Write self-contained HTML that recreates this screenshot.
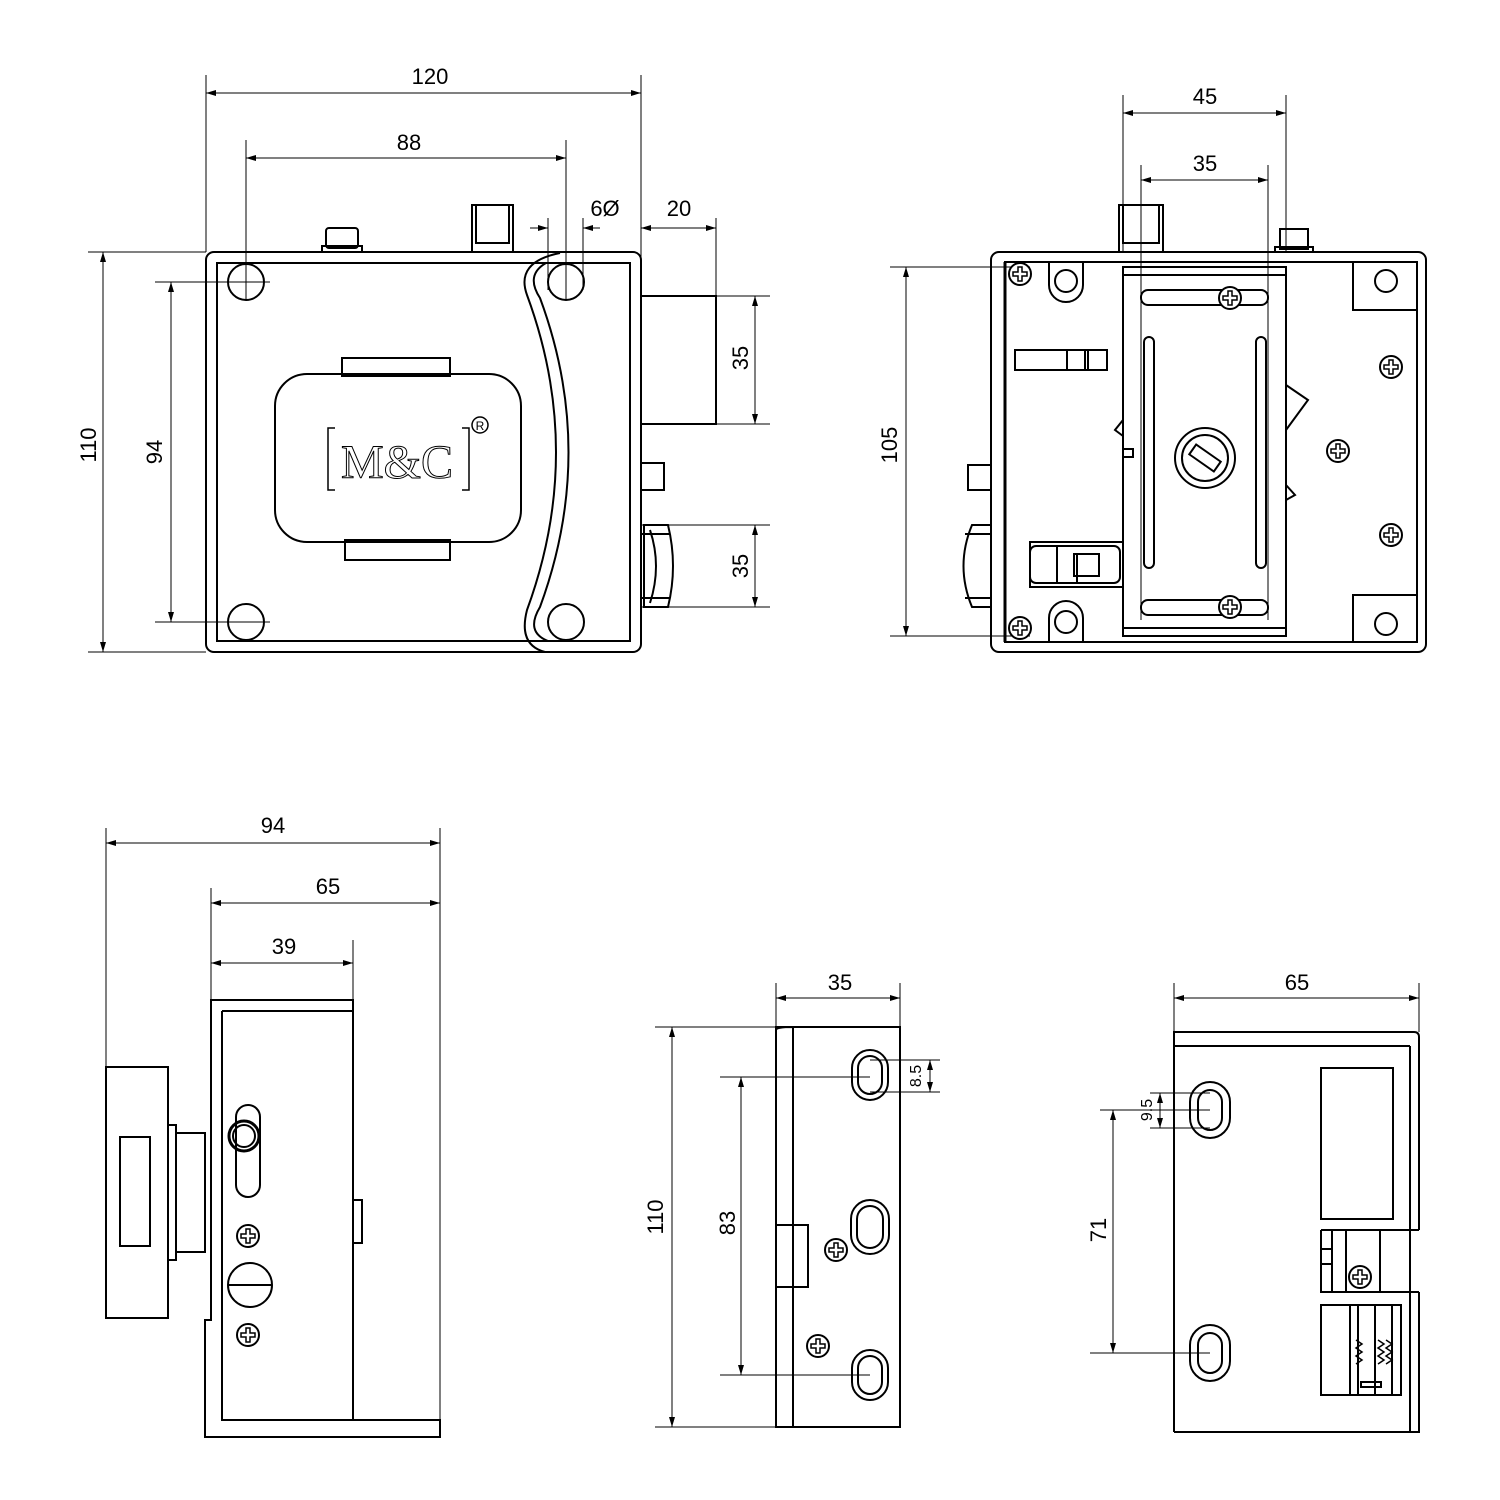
<!DOCTYPE html>
<html><head><style>body{margin:0;background:#fff}svg{display:block}text{font-family:"Liberation Sans",sans-serif;font-size:22px;fill:#000}</style></head><body>
<svg width="1500" height="1500" viewBox="0 0 1500 1500" xmlns="http://www.w3.org/2000/svg">
<defs>
<marker id="a" viewBox="0 0 10 6" refX="10" refY="3" markerWidth="10" markerHeight="6" orient="auto-start-reverse" markerUnits="userSpaceOnUse"><path d="M0,0L10,3L0,6z" fill="#000"/></marker>
<g id="scr"><circle r="11" fill="#fff" stroke="#000" stroke-width="2"/><path d="M-2,-7h4v5h5v4h-5v5h-4v-5h-5v-4h5z" fill="none" stroke="#000" stroke-width="1.5"/></g>
</defs>
<g fill="none" stroke="#000" stroke-width="1">
<!-- dims top-left -->
<path d="M206,75V252M641,75V296M246,140V300M566,140V300M548,218V290M583,218V290M716,218V296M88,252H206M88,652H206M155,282H270M155,622H270M641,296H770M641,424H770M641,525H770M641,607H770"/>
<line x1="206" y1="93" x2="641" y2="93" marker-start="url(#a)" marker-end="url(#a)"/>
<line x1="246" y1="158" x2="566" y2="158" marker-start="url(#a)" marker-end="url(#a)"/>
<line x1="530" y1="228" x2="548" y2="228" marker-end="url(#a)"/><line x1="600" y1="228" x2="583" y2="228" marker-end="url(#a)"/>
<line x1="641" y1="228" x2="716" y2="228" marker-start="url(#a)" marker-end="url(#a)"/>
<line x1="755" y1="296" x2="755" y2="424" marker-start="url(#a)" marker-end="url(#a)"/>
<line x1="755" y1="525" x2="755" y2="607" marker-start="url(#a)" marker-end="url(#a)"/>
<line x1="103" y1="252" x2="103" y2="652" marker-start="url(#a)" marker-end="url(#a)"/>
<line x1="171" y1="282" x2="171" y2="622" marker-start="url(#a)" marker-end="url(#a)"/>
<!-- dims top-right -->
<path d="M1123,95V252M1286,95V252M1141,165V620M1268,165V620M890,267H1030M890,636H1030"/>
<line x1="1123" y1="113" x2="1286" y2="113" marker-start="url(#a)" marker-end="url(#a)"/>
<line x1="1141" y1="180" x2="1268" y2="180" marker-start="url(#a)" marker-end="url(#a)"/>
<line x1="906" y1="267" x2="906" y2="636" marker-start="url(#a)" marker-end="url(#a)"/>
<!-- dims bottom-left -->
<path d="M106,828V1067M440,828V1437M211,888V1000M353,940V1000"/>
<line x1="106" y1="843" x2="440" y2="843" marker-start="url(#a)" marker-end="url(#a)"/>
<line x1="211" y1="903" x2="440" y2="903" marker-start="url(#a)" marker-end="url(#a)"/>
<line x1="211" y1="963" x2="353" y2="963" marker-start="url(#a)" marker-end="url(#a)"/>
<!-- dims bottom-middle -->
<path d="M776,983V1027M900,983V1027M655,1027H790M655,1427H790M720,1077H870M720,1375H870M870,1060H940M870,1092H940"/>
<line x1="776" y1="998" x2="900" y2="998" marker-start="url(#a)" marker-end="url(#a)"/>
<line x1="672" y1="1027" x2="672" y2="1427" marker-start="url(#a)" marker-end="url(#a)"/>
<line x1="741" y1="1077" x2="741" y2="1375" marker-start="url(#a)" marker-end="url(#a)"/>
<line x1="930" y1="1060" x2="930" y2="1092" marker-start="url(#a)" marker-end="url(#a)"/>
<!-- dims bottom-right -->
<path d="M1174,983V1032M1419,983V1032M1100,1110H1210M1090,1353H1210M1150,1093H1210M1150,1128H1210"/>
<line x1="1174" y1="998" x2="1419" y2="998" marker-start="url(#a)" marker-end="url(#a)"/>
<line x1="1113" y1="1110" x2="1113" y2="1353" marker-start="url(#a)" marker-end="url(#a)"/>
<line x1="1160" y1="1093" x2="1160" y2="1128" marker-start="url(#a)" marker-end="url(#a)"/>
</g>
<g fill="none" stroke="#000" stroke-width="2">
<!-- top-left view -->
<rect x="326" y="228" width="32" height="20" rx="3"/><rect x="322" y="246" width="40" height="6"/>
<rect x="472" y="205" width="41" height="47"/><rect x="476" y="205" width="33" height="38"/>
<rect x="206" y="252" width="435" height="400" rx="8"/>
<rect x="217" y="263" width="413" height="378"/>
<path d="M560,253Q515,262 527,295Q585,452 527,610Q518,645 545,652"/>
<path d="M546,263Q525,275 540,298Q597,452 540,607Q525,632 548,641"/>
<circle cx="246" cy="282" r="18"/><circle cx="566" cy="282" r="18"/><circle cx="246" cy="622" r="18"/><circle cx="566" cy="622" r="18"/>
<rect x="342" y="358" width="108" height="18"/><rect x="345" y="540" width="105" height="20"/>
<rect x="275" y="374" width="246" height="168" rx="32"/>
<rect x="641" y="296" width="75" height="128"/>
<rect x="641" y="463" width="23" height="27"/>
<path d="M644,525H668Q678,566 668,607H644Z"/><path d="M650,530Q662,566 650,603"/><path d="M641,534H670M641,598H670"/>
<path d="M335,428H328V490H335M462,428H469V490H462" stroke-width="1.5"/>
<!-- top-right view -->
<rect x="1119" y="205" width="44" height="47"/><rect x="1123" y="205" width="36" height="38"/>
<rect x="1280" y="229" width="28" height="20"/><rect x="1275" y="247" width="38" height="5"/>
<rect x="991" y="252" width="435" height="400" rx="8"/>
<rect x="1005" y="262" width="412" height="380"/>
<path d="M1005,262V642"  stroke-width="3"/>
<path d="M1353,262V310H1417M1353,642V595H1417"/>
<circle cx="1386" cy="281" r="11"/><circle cx="1386" cy="624" r="11"/>
<path d="M1049,262V285A17,17 0 0 0 1083,285V262"/><circle cx="1066" cy="281" r="11"/>
<path d="M1049,642V618A17,17 0 0 1 1083,618V642"/><circle cx="1066" cy="622" r="11"/>
<rect x="1015" y="350" width="92" height="20"/><path d="M1067,350V370M1085,350V370M1088,350V370"/>
<rect x="1030" y="542" width="93" height="45"/><rect x="1030" y="546" width="90" height="37" rx="6"/><path d="M1057,546V583M1077,553V583"/><rect x="1074" y="554" width="25" height="22"/>
<path d="M1123,420L1115,430L1123,436M1123,449H1133V457H1123"/>
<path d="M1286,385L1308,400L1286,430M1286,485L1295,495L1286,500"/>
<rect x="1123" y="267" width="163" height="369"/>
<path d="M1123,275H1286M1123,628H1286"/>
<rect x="1141" y="290" width="127" height="15" rx="7"/><rect x="1141" y="600" width="127" height="15" rx="7"/>
<rect x="1144" y="337" width="10" height="231" rx="5"/><rect x="1256" y="337" width="10" height="231" rx="5"/>
<circle cx="1205" cy="458" r="30"/><circle cx="1205" cy="458" r="23"/>
<rect x="1190" y="452" width="30" height="12" transform="rotate(35 1205 458)"/>
<rect x="968" y="465" width="23" height="25"/>
<path d="M990,525H972Q955,566 972,607H990"/><path d="M965,534H990M965,598H990"/>
<!-- bottom-left view -->
<rect x="106" y="1067" width="62" height="251"/><rect x="120" y="1137" width="30" height="109"/>
<rect x="168" y="1125" width="8" height="135"/><rect x="176" y="1133" width="29" height="119"/>
<path d="M211,1000H353V1420H440V1437H205V1320H211Z"/>
<path d="M222,1011H353M222,1011V1420H353"/>
<rect x="353" y="1200" width="9" height="43"/>
<rect x="236" y="1105" width="24" height="92" rx="12"/><circle cx="244" cy="1136" r="15" stroke-width="3"/><circle cx="244" cy="1136" r="11"/>
<circle cx="250" cy="1285" r="22"/><path d="M228,1285H272"/>
<!-- bottom-middle -->
<rect x="776" y="1027" width="124" height="400"/><path d="M793,1027V1427M776,1030Q776,1027 793,1027"/>
<rect x="776" y="1225" width="32" height="62"/>
<rect x="852" y="1050" width="36" height="50" rx="18"/><rect x="858" y="1056" width="24" height="38" rx="12"/>
<rect x="851" y="1200" width="38" height="54" rx="19"/><rect x="857" y="1206" width="26" height="42" rx="13"/>
<rect x="852" y="1350" width="36" height="50" rx="18"/><rect x="858" y="1356" width="24" height="38" rx="12"/>
<!-- bottom-right -->
<path d="M1174,1432V1032H1414Q1419,1032 1419,1037V1230M1410,1046V1432M1174,1432H1419V1292"/>
<path d="M1174,1046H1410"/>
<rect x="1190" y="1082" width="40" height="56" rx="20"/><rect x="1198" y="1090" width="24" height="40" rx="12"/>
<rect x="1190" y="1325" width="40" height="56" rx="20"/><rect x="1198" y="1333" width="24" height="40" rx="12"/>
<rect x="1321" y="1068" width="72" height="151"/>
<path d="M1321,1230H1419M1321,1230V1292H1419M1332,1230V1292M1346,1230V1292M1380,1230V1292M1321,1249H1332M1321,1264H1332"/>
<rect x="1321" y="1305" width="80" height="90"/><path d="M1350,1305V1395M1358,1305V1395M1375,1305V1395M1392,1305V1395"/>
<path d="M1356,1340l6,4l-6,4l6,4l-6,4l6,4l-6,4M1378,1340l6,4l-6,4l6,4l-6,4l6,4l-6,4M1386,1340l6,4l-6,4l6,4l-6,4l6,4l-6,4" stroke-width="1.5"/>
<rect x="1361" y="1382" width="20" height="5"/>
</g>
<use href="#scr" x="1230" y="298"/><use href="#scr" x="1230" y="607"/>
<use href="#scr" x="1020" y="274"/><use href="#scr" x="1020" y="628"/>
<use href="#scr" x="1391" y="367"/><use href="#scr" x="1338" y="451"/><use href="#scr" x="1391" y="535"/>
<use href="#scr" x="248" y="1236"/><use href="#scr" x="248" y="1335"/>
<use href="#scr" x="836" y="1250"/><use href="#scr" x="818" y="1346"/>
<use href="#scr" x="1360" y="1277"/>
<text x="397" y="478" text-anchor="middle" style="font-family:'Liberation Serif',serif;font-size:48px;fill:#fff;stroke:#000;stroke-width:1">M&amp;C</text>
<circle cx="480" cy="425" r="8" fill="none" stroke="#000" stroke-width="1.5"/><text x="480" y="430" text-anchor="middle" style="font-size:12px">R</text>
<text x="430" y="84" text-anchor="middle">120</text>
<text x="409" y="150" text-anchor="middle">88</text>
<text x="605" y="216" text-anchor="middle">6Ø</text>
<text x="679" y="216" text-anchor="middle">20</text>
<text transform="translate(748,358) rotate(-90)" text-anchor="middle">35</text>
<text transform="translate(748,566) rotate(-90)" text-anchor="middle">35</text>
<text transform="translate(96,445) rotate(-90)" text-anchor="middle">110</text>
<text transform="translate(162,452) rotate(-90)" text-anchor="middle">94</text>
<text x="1205" y="104" text-anchor="middle">45</text>
<text x="1205" y="171" text-anchor="middle">35</text>
<text transform="translate(897,445) rotate(-90)" text-anchor="middle">105</text>
<text x="273" y="833" text-anchor="middle">94</text>
<text x="328" y="894" text-anchor="middle">65</text>
<text x="284" y="954" text-anchor="middle">39</text>
<text x="840" y="990" text-anchor="middle">35</text>
<text transform="translate(663,1217) rotate(-90)" text-anchor="middle">110</text>
<text transform="translate(735,1223) rotate(-90)" text-anchor="middle">83</text>
<text transform="translate(921,1076) rotate(-90)" text-anchor="middle" style="font-size:16px">8.5</text>
<text x="1297" y="990" text-anchor="middle">65</text>
<text transform="translate(1106,1230) rotate(-90)" text-anchor="middle">71</text>
<text transform="translate(1152,1110) rotate(-90)" text-anchor="middle" style="font-size:16px">9.5</text>
</svg>
</body></html>
